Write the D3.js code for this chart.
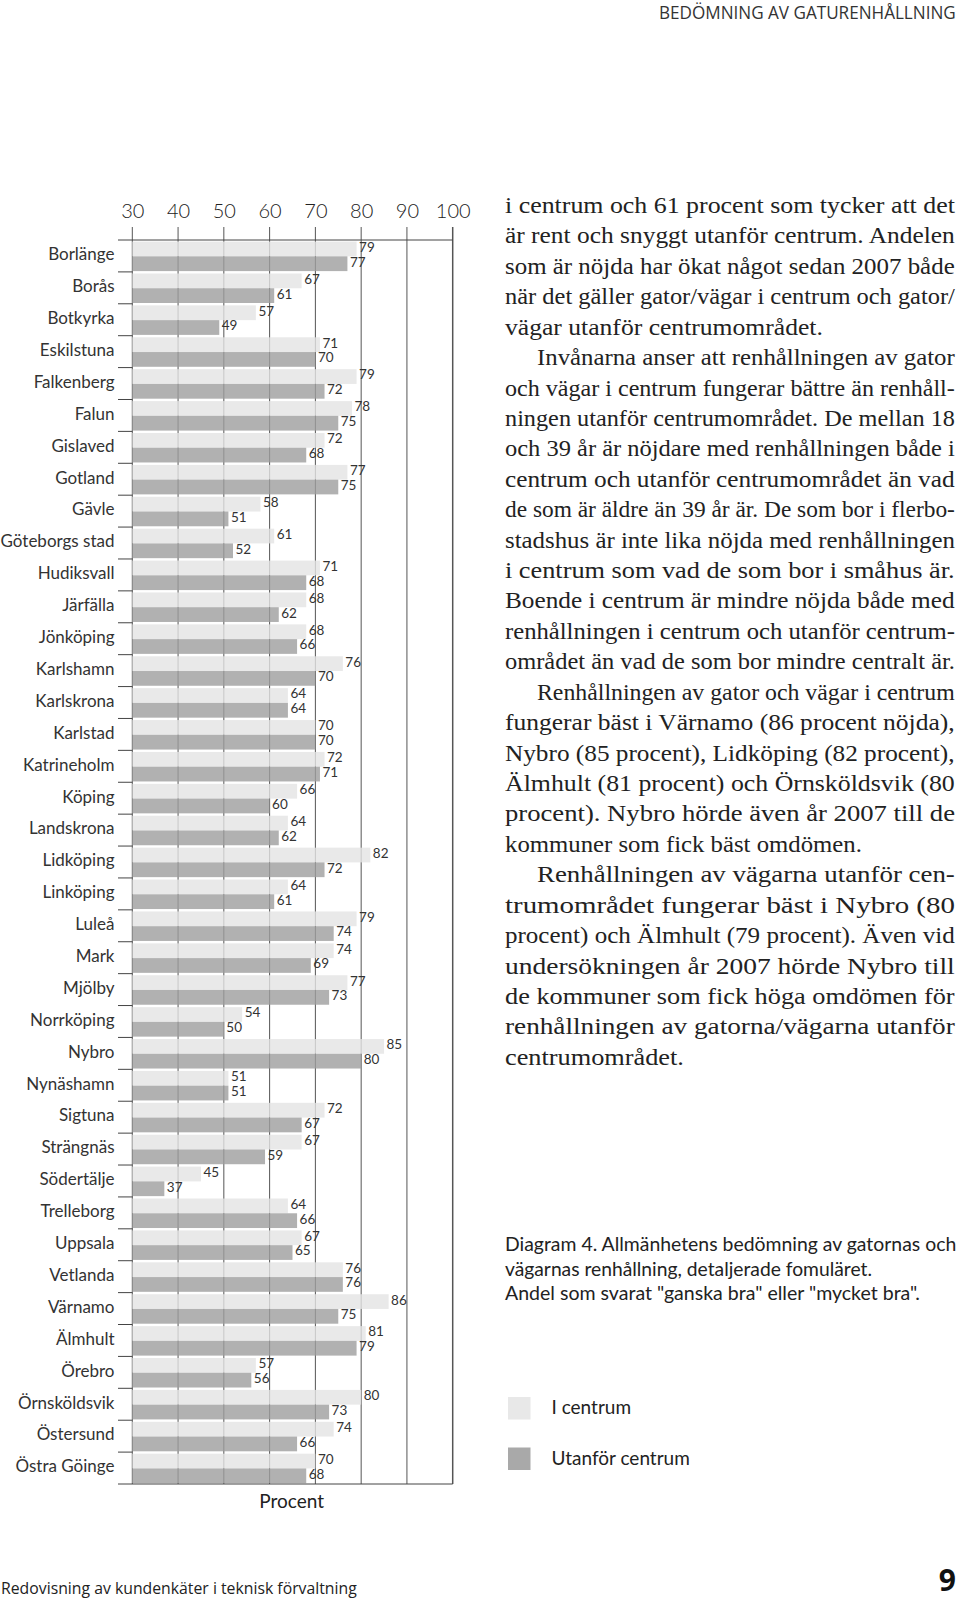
<!DOCTYPE html>
<html><head><meta charset="utf-8">
<script src="https://cdn.jsdelivr.net/npm/d3@7"></script>
<style>
html,body{margin:0;padding:0;background:#fff;}
svg{display:block;}
</style>
</head><body>
<svg id="c" width="960" height="1600"></svg>
<script>
const categories = ["Borlänge","Borås","Botkyrka","Eskilstuna","Falkenberg","Falun","Gislaved","Gotland","Gävle","Göteborgs stad","Hudiksvall","Järfälla","Jönköping","Karlshamn","Karlskrona","Karlstad","Katrineholm","Köping","Landskrona","Lidköping","Linköping","Luleå","Mark","Mjölby","Norrköping","Nybro","Nynäshamn","Sigtuna","Strängnäs","Södertälje","Trelleborg","Uppsala","Vetlanda","Värnamo","Älmhult","Örebro","Örnsköldsvik","Östersund","Östra Göinge"];
const iCentrum = [79,67,57,71,79,78,72,77,58,61,71,68,68,76,64,70,72,66,64,82,64,79,74,77,54,85,51,72,67,45,64,67,76,86,81,57,80,74,70];
const utanforCentrum = [77,61,49,70,72,75,68,75,51,52,68,62,66,70,64,70,71,60,62,72,61,74,69,73,50,80,51,67,59,37,66,65,76,75,79,56,73,66,68];
const seriesNames = ["I centrum","Utanför centrum"];
const tickValues = [30,40,50,60,70,80,90,100];
const axisTitle = "Procent";
const headerText = "BEDÖMNING AV GATURENHÅLLNING";
const footerText = "Redovisning av kundenkäter i teknisk förvaltning";
const pageNumber = "9";
const captionLines = ["Diagram 4. Allmänhetens bedömning av gatornas och","vägarnas renhållning, detaljerade fomuläret.","Andel som svarat \"ganska bra\" eller \"mycket bra\"."];
// body text lines: [text, indent, justified, endX]
const bodyLines = [
 ["i centrum och 61 procent som tycker att det",0,1],
 ["är rent och snyggt utanför centrum. Andelen",0,1],
 ["som är nöjda har ökat något sedan 2007 både",0,1],
 ["när det gäller gator/vägar i centrum och gator/",0,1],
 ["vägar utanför centrumområdet.",0,0,823],
 ["Invånarna anser att renhållningen av gator",1,1],
 ["och vägar i centrum fungerar bättre än renhåll-",0,1],
 ["ningen utanför centrumområdet. De mellan 18",0,1],
 ["och 39 år är nöjdare med renhållningen både i",0,1],
 ["centrum och utanför centrumområdet än vad",0,1],
 ["de som är äldre än 39 år är. De som bor i flerbo-",0,1],
 ["stadshus är inte lika nöjda med renhållningen",0,1],
 ["i centrum som vad de som bor i småhus är.",0,1],
 ["Boende i centrum är mindre nöjda både med",0,1],
 ["renhållningen i centrum och utanför centrum-",0,1],
 ["området än vad de som bor mindre centralt är.",0,1],
 ["Renhållningen av gator och vägar i centrum",1,1],
 ["fungerar bäst i Värnamo (86 procent nöjda),",0,1],
 ["Nybro (85 procent), Lidköping (82 procent),",0,1],
 ["Älmhult (81 procent) och Örnsköldsvik (80",0,1],
 ["procent). Nybro hörde även år 2007 till de",0,1],
 ["kommuner som fick bäst omdömen.",0,0,862],
 ["Renhållningen av vägarna utanför cen-",1,1],
 ["trumområdet fungerar bäst i Nybro (80",0,1],
 ["procent) och Älmhult (79 procent). Även vid",0,1],
 ["undersökningen år 2007 hörde Nybro till",0,1],
 ["de kommuner som fick höga omdömen för",0,1],
 ["renhållningen av gatorna/vägarna utanför",0,1],
 ["centrumområdet.",0,0,684]
];

const svg = d3.select("#c");
const sans = "Lato, 'Open Sans', sans-serif";
const colors = ["#e8e8e8","#a9a9a9"];

// horizontally scale a text element so it spans exactly `width` px starting at x0
function fitWidth(sel, x0, baseline, width){
  sel.attr("x",0).attr("y",0);
  const w = sel.node().getComputedTextLength();
  const s = width / w;
  sel.attr("transform", `translate(${x0},${baseline}) scale(${s},1)`);
}

const x = d3.scaleLinear().domain([30,100]).range([132.3,452.7]);
const y = d3.scaleBand().domain(categories).range([240,1484]).paddingInner(0).paddingOuter(0);
const ys = d3.scaleBand().domain([0,1]).range([1.6, y.bandwidth()-0.8]);

const g = svg.append("g");

// grid lines
g.append("g").selectAll("line").data(tickValues).join("line")
  .attr("x1", d=>x(d)).attr("x2", d=>x(d))
  .attr("y1", 227).attr("y2", 1484)
  .attr("stroke", "#555").attr("stroke-width", d=> d===100?1.5:1);

// top axis labels
const axis = d3.axisTop(x).tickValues(tickValues).tickSize(0).tickPadding(0).tickFormat(d3.format("d"));
const ax = g.append("g").attr("transform","translate(0,218)").call(axis);
ax.select(".domain").remove();
ax.selectAll("text").attr("font-family", sans).attr("font-size", 20).attr("font-weight",300)
  .attr("fill","#222").attr("dy", 0).attr("y",0);

// bars
const data = categories.map((c,i)=>({c, vals:[iCentrum[i], utanforCentrum[i]]}));
const rows = g.append("g").selectAll("g").data(data).join("g")
  .attr("transform", d=>`translate(0,${y(d.c)})`);
rows.selectAll("rect").data(d=>d.vals.map((v,k)=>({v,k}))).join("rect")
  .attr("x", x(30)).attr("y", d=>ys(d.k))
  .attr("width", d=>x(d.v)-x(30)).attr("height", ys.bandwidth())
  .attr("fill", d=>d.k===0?"#e3e3e3":"#9d9d9d").attr("fill-opacity", 0.8);
rows.selectAll("text.v").data(d=>d.vals.map((v,k)=>({v,k}))).join("text")
  .attr("class","v")
  .attr("x", d=>x(d.v)+2.5).attr("y", d=>ys(d.k)+ys.bandwidth()/2 - 0.5)
  .attr("dominant-baseline","middle")
  .attr("font-family", sans).attr("font-size", 13.5).attr("fill","#333")
  .text(d=>d.v);

// category separators and frame
const bounds = d3.range(categories.length+1).map(i=>240 + i*y.step());
g.append("g").selectAll("line").data(bounds).join("line")
  .attr("x1",118).attr("x2", (d,i)=> (i===0||i===categories.length)? x(100): x(30))
  .attr("y1", d=>d).attr("y2", d=>d)
  .attr("stroke","#444").attr("stroke-width",1);

// category labels
g.append("g").selectAll("text").data(categories).join("text")
  .attr("x",114.5).attr("y", d=>y(d)+y.bandwidth()/2)
  .attr("dominant-baseline","middle").attr("text-anchor","end")
  .attr("font-family", sans).attr("font-size",17).attr("fill","#333")
  .text(d=>d);

// axis title
g.append("text").attr("x",291.7).attr("y",1508).attr("text-anchor","middle")
  .attr("font-family",sans).attr("font-size",19).attr("fill","#222").text(axisTitle);

// header & footer
const hdr = svg.append("text")
  .attr("font-family","'Open Sans', sans-serif").attr("font-size",18).attr("fill","#333").text(headerText);
fitWidth(hdr, 659, 19, 297);
const ftr = svg.append("text")
  .attr("font-family","'Open Sans', sans-serif").attr("font-size",16.5).attr("fill","#222").text(footerText);
fitWidth(ftr, 1, 1594, 356);
svg.append("text").attr("x",956).attr("y",1591).attr("text-anchor","end")
  .attr("font-family","'Open Sans', sans-serif").attr("font-weight",700).attr("font-size",30).attr("fill","#111").text(pageNumber);

// body text
const bodyG = svg.append("g");
bodyLines.forEach((L,i)=>{
  const x0 = L[1] ? 537 : 505;
  const x1 = L[2] ? 955 : L[3];
  const t = bodyG.append("text")
    .attr("font-family","'Liberation Serif', 'DejaVu Serif', serif").attr("font-size",24).attr("fill","#222")
    .text(L[0]);
  fitWidth(t, x0, 213 + i*30.42, x1-x0);
});

// caption
const capWidths = [451, 367, 415];
const capG = svg.append("g");
captionLines.forEach((c,i)=>{
  const t = capG.append("text").attr("font-family",sans).attr("font-size",19.3).attr("fill","#222").text(c);
  fitWidth(t, 505, 1251 + i*24.5, capWidths[i]);
});

// legend
const lg = svg.append("g").selectAll("g").data(seriesNames).join("g")
  .attr("transform",(d,i)=>`translate(508,${1397 + i*50.5})`);
lg.append("rect").attr("width",22.5).attr("height",22.5).attr("fill",(d,i)=>colors[i]);
lg.append("text").attr("x",43.5).attr("y",17).attr("font-family",sans).attr("font-size",19).attr("fill","#222").text(d=>d);
</script>
</body></html>
